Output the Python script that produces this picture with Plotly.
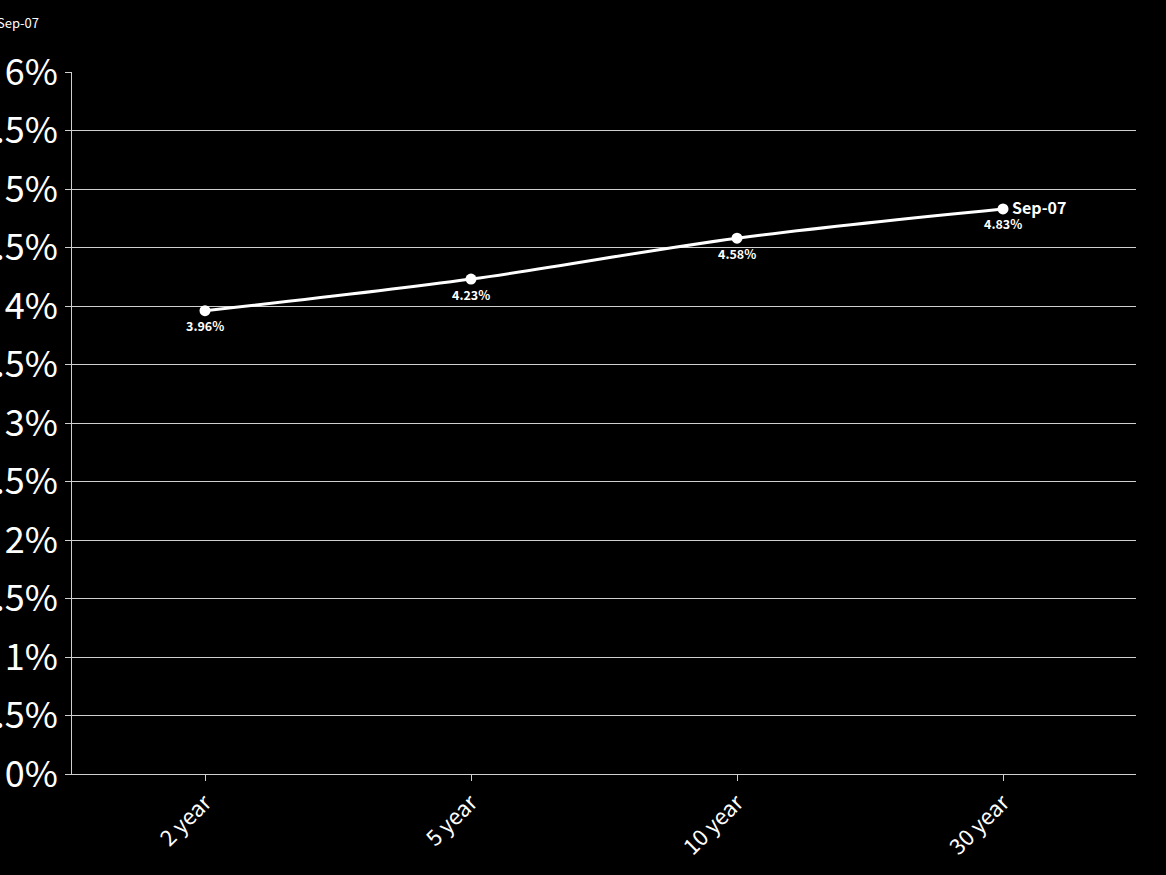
import plotly.graph_objects as go

categories = ["2 year", "5 year", "10 year", "30 year"]
yields = [3.96, 4.23, 4.58, 4.83]
labels = ["3.96%", "4.23%", "4.58%", "4.83%"]
series_name = "Sep-07"
y_ticks = [0, 0.5, 1, 1.5, 2, 2.5, 3, 3.5, 4, 4.5, 5, 5.5, 6]
y_tick_text = [f"{v:g}%" for v in y_ticks]

FONT = "Noto Sans CJK SC"

fig = go.Figure()
fig.add_trace(go.Scatter(
    x=categories, y=yields, mode="lines+markers",
    line=dict(color="white", width=3, shape="spline"),
    marker=dict(color="white", size=11),
    name=series_name, showlegend=False, cliponaxis=False,
))
for c, v, t in zip(categories, yields, labels):
    fig.add_annotation(
        x=c, y=v, xref="x", yref="y", text="<b>" + t + "</b>",
        showarrow=False, yanchor="middle", yshift=-15,
        font=dict(family=FONT, size=12.5, color="white"),
    )
fig.add_annotation(
    x=categories[-1], y=yields[-1], xref="x", yref="y",
    text="<b>" + series_name + "</b>", showarrow=False,
    xanchor="left", xshift=7, yshift=2,
    font=dict(family=FONT, size=16, color="white"),
)
fig.add_annotation(
    x=-0.0725, y=1.07, xref="paper", yref="paper",
    text=series_name, showarrow=False, xanchor="left", yanchor="middle",
    font=dict(family=FONT, size=13, color="white"),
)
fig.update_layout(
    width=1166, height=875,
    paper_bgcolor="black", plot_bgcolor="black",
    margin=dict(l=72, r=30, t=72, b=101, autoexpand=False),
    font=dict(family=FONT, color="white"),
    xaxis=dict(
        range=[-0.5, 3.5], tickangle=-45, showgrid=False, automargin=False,
        showline=True, linecolor="#d0d0d0", linewidth=1,
        ticks="outside", ticklen=6, tickcolor="#d0d0d0",
        tickfont=dict(family=FONT, size=22, color="white"),
    ),
    yaxis=dict(
        range=[0, 6], tickmode="array", tickvals=y_ticks, ticktext=y_tick_text,
        automargin=False,
        showgrid=True, gridcolor="#d0d0d0", gridwidth=1,
        showline=True, linecolor="#d0d0d0", linewidth=1,
        ticks="outside", ticklen=6, tickcolor="#d0d0d0",
        tickfont=dict(family=FONT, size=36, color="white"),
        zeroline=False,
    ),
)
fig.write_html(
    "out.html",
    config={"displayModeBar": False},
    post_script="document.body.style.margin='0';document.body.style.background='black';",
)
